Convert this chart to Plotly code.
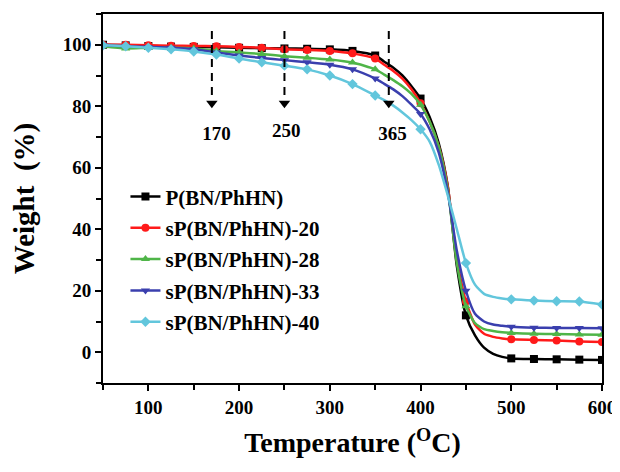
import plotly.graph_objects as go

# Temperature grid (°C)
temperature = [50, 75, 100, 125, 150, 175, 200, 225, 250, 275, 300, 325, 350,
               360, 370, 380, 390, 400, 410, 420, 430, 440, 450, 460, 470, 480,
               490, 500, 525, 550, 575, 600]

w_P = [100, 99.8, 99.6, 99.4, 99.3, 99.2, 99.0, 98.9, 98.8, 98.7, 98.5, 98.0, 96.5,
       94.5, 92.5, 90.0, 86.5, 82.5, 76.5, 68.0, 54.0, 28.0, 12.0, 5.5, 1.5, -0.5,
       -1.5, -2.0, -2.2, -2.3, -2.4, -2.5]
w_20 = [100, 100, 99.8, 99.7, 99.6, 99.5, 99.3, 99.0, 98.5, 98.3, 98.0, 97.2, 95.5,
        93.5, 91.5, 89.0, 85.5, 81.0, 75.0, 67.0, 54.0, 30.0, 16.5, 9.0, 6.0, 5.0,
        4.5, 4.2, 4.0, 3.8, 3.5, 3.3]
w_28 = [99.5, 98.8, 99.0, 99.0, 98.8, 98.0, 97.5, 97.0, 96.3, 95.8, 95.2, 94.2, 92.0,
        90.3, 88.5, 86.5, 84.0, 80.5, 75.0, 67.0, 53.0, 29.0, 15.0, 9.5, 7.5, 6.9,
        6.5, 6.3, 6.0, 5.9, 5.8, 5.7]
w_33 = [99.8, 99.5, 99.3, 99.0, 98.5, 97.5, 96.5, 95.7, 95.0, 94.3, 93.5, 92.0, 89.0,
        87.3, 85.5, 83.3, 80.5, 77.5, 72.5, 65.0, 52.0, 33.0, 20.0, 12.5, 10.0, 9.0,
        8.6, 8.3, 8.0, 7.9, 7.9, 7.8]
w_40 = [99.8, 99.5, 99.0, 98.5, 97.8, 96.8, 95.5, 94.3, 93.2, 92.0, 90.0, 87.2, 83.5,
        82.0, 80.2, 78.0, 75.5, 72.5, 68.5, 61.0, 51.0, 40.0, 29.0, 22.0, 19.0, 18.0,
        17.5, 17.2, 16.8, 16.6, 16.5, 15.5]

series_names = ["P(BN/PhHN)", "sP(BN/PhHN)-20", "sP(BN/PhHN)-28",
                "sP(BN/PhHN)-33", "sP(BN/PhHN)-40"]
series_values = [w_P, w_20, w_28, w_33, w_40]
colors = ["#000000", "#ff1a1a", "#4fb548", "#3a3fae", "#62c6dc"]
symbols = ["square", "circle", "triangle-up", "triangle-down", "diamond"]

onset_temps = [170, 250, 365]
onset_labels = ["170", "250", "365"]

x_ticks = [100, 200, 300, 400, 500, 600]
y_ticks = [0, 20, 40, 60, 80, 100]

FONT = "Liberation Serif"

fig = go.Figure()

mark_idx = [i for i, t in enumerate(temperature) if t % 25 == 0]

for name, vals, col, sym in zip(series_names, series_values, colors, symbols):
    fig.add_trace(go.Scatter(
        x=temperature, y=vals, mode="lines",
        line=dict(color=col, width=2.5, shape="spline", smoothing=0.6),
        showlegend=False, hoverinfo="skip"))
    fig.add_trace(go.Scatter(
        x=[temperature[i] for i in mark_idx], y=[vals[i] for i in mark_idx], mode="markers",
        marker=dict(color=col, symbol=sym, size=8), showlegend=False))
    fig.add_trace(go.Scatter(
        x=[None], y=[None], mode="lines+markers", name=name, legendgroup=name,
        line=dict(color=col, width=2.5), marker=dict(color=col, symbol=sym, size=8)))

# dashed onset indicators with arrow heads
for t in onset_temps:
    fig.add_trace(go.Scatter(x=[t, t], y=[104.5, 83], mode="lines",
                             line=dict(color="black", width=2, dash="8px,6px"),
                             showlegend=False, hoverinfo="skip"))
fig.add_trace(go.Scatter(x=onset_temps, y=[81] * len(onset_temps), mode="markers",
                         marker=dict(symbol="triangle-down", size=10, color="black"),
                         showlegend=False, hoverinfo="skip"))
fig.add_trace(go.Scatter(x=[175, 252, 369], y=[70.5, 71.5, 70.5], mode="text", text=onset_labels,
                         textfont=dict(family=FONT, size=19, color="black", weight="bold"),
                         showlegend=False, hoverinfo="skip"))

axis_common = dict(showline=True, linecolor="black", linewidth=2, mirror=True,
                   ticks="outside", ticklen=6, tickwidth=2, tickcolor="black",
                   showgrid=False, zeroline=False, automargin=False,
                   tickfont=dict(family=FONT, size=19, color="black", weight="bold"))

fig.update_xaxes(range=[50, 600], tickvals=x_ticks,
                 minor=dict(dtick=50, tick0=0, ticks="outside", ticklen=5, tickwidth=2, tickcolor="black"),
                 title=dict(text="Temperature (<sup>O</sup>C)", standoff=16,
                            font=dict(family=FONT, size=28, color="black", weight="bold")),
                 **axis_common)
fig.update_yaxes(range=[-10, 110], tickvals=y_ticks,
                 minor=dict(dtick=10, tick0=0, ticks="outside", ticklen=5, tickwidth=2, tickcolor="black"),
                 title=dict(text="Weight&nbsp;&nbsp;(%)", standoff=26,
                            font=dict(family=FONT, size=29, color="black", weight="bold")),
                 **axis_common)

# the page places the figure 8px from the top-left corner of the window
fig.update_layout(
    width=612, height=464,
    margin=dict(l=95, r=18, t=6, b=89),
    plot_bgcolor="white", paper_bgcolor="white",
    showlegend=True,
    legend=dict(x=0.045, y=0.56, xanchor="left", yanchor="top", bgcolor="rgba(0,0,0,0)",
                traceorder="grouped", tracegroupgap=1,
                font=dict(family=FONT, size=21, color="black", weight="bold")),
)

fig.write_html("out.html")
